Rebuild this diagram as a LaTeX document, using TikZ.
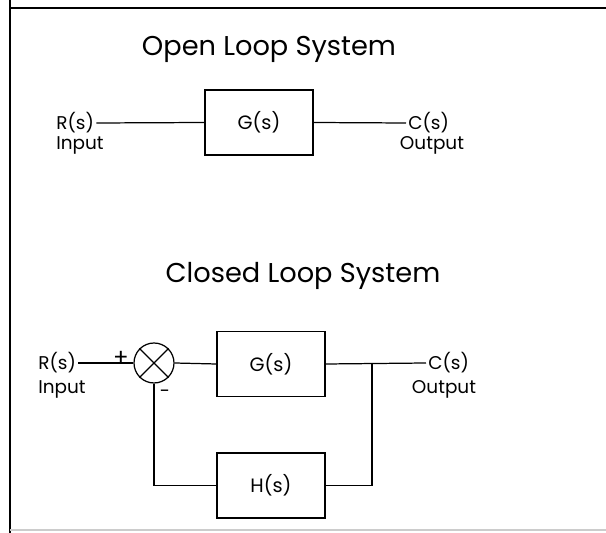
\documentclass[tikz,border=0pt]{standalone}
\usepackage{fontspec}
\setmainfont{Poppins}
\usepackage{tikz}

\begin{document}
\begin{tikzpicture}[x=0.02cm,y=-0.02cm,line width=0.7pt,
  block/.style={draw,minimum width=2.16cm,minimum height=1.3cm,font=\fontsize{11}{13}\selectfont},
  lab/.style={inner sep=1pt,font=\fontsize{10.5}{12}\selectfont},
  title/.style={inner sep=0pt,anchor=base,font=\fontsize{15.5}{18}\selectfont}]
\useasboundingbox (0,0) rectangle (606,533);
% frame
\draw (10,0) -- (10,533);
\draw (10,8) -- (606,8);
\draw[gray!40] (10,530) -- (606,530);
% open loop
\node[title] (topen) at (269,56) {Open Loop System};
\node[block] (g1) at (259,122.5) {G(s)};
\node[lab,anchor=west] (r1) at (54,123) {R(s)};
\node[lab,anchor=north west] (in1) at (54,134) {Input};
\node[lab,anchor=west] (c1) at (406,123) {C(s)};
\node[lab,anchor=north] (out1) at (432,134) {Output};
\draw (r1.east) -- (g1.west);
\draw (g1.east) -- (c1.west);
% closed loop
\node[title] (tclosed) at (303,283) {Closed Loop System};
\node[draw,circle,minimum size=0.8cm,inner sep=0pt] (sum) at (154,363) {};
\draw (sum.north west) -- (sum.south east) (sum.north east) -- (sum.south west);
\node[lab,font=\fontsize{13}{14}\selectfont] (plus) at (121,358) {+};
\node[lab] (minus) at (165,394) {-};
\node[block] (g2) at (271,364) {G(s)};
\node[block] (h2) at (271,485.5) {H(s)};
\node[lab,anchor=west] (r2) at (36,363) {R(s)};
\node[lab,anchor=north west] (in2) at (36,378) {Input};
\node[lab,anchor=west] (c2) at (426,363) {C(s)};
\node[lab,anchor=north] (out2) at (444,378) {Output};
\coordinate (junc) at (372,363);
\draw (r2.east) -- (sum.west);
\draw (sum.east) -- (g2.west);
\draw (g2.east) -- (c2.west);
\draw (junc) |- (h2.east);
\draw (h2.west) -| (sum.south);
\end{tikzpicture}
\end{document}
